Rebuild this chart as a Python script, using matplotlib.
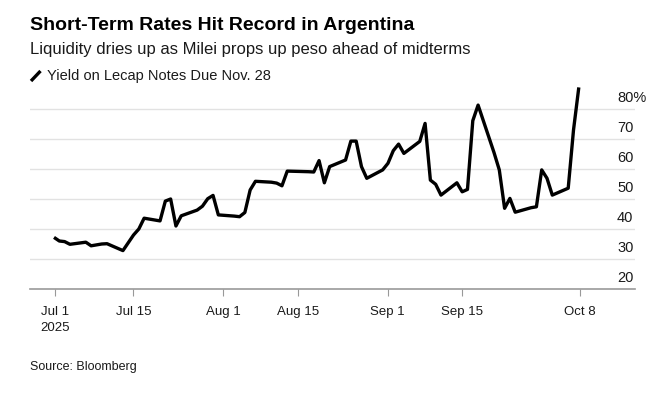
import pandas as pd
import numpy as np
import matplotlib
matplotlib.use('Agg')
from matplotlib import pyplot as plt
import matplotlib.transforms as mtransforms
from matplotlib.lines import Line2D

plt.rcParams['font.family'] = ['Liberation Sans', 'DejaVu Sans']

# yield on Lecap notes due Nov. 28 (%)
dates = ['2025-07-01', '2025-07-02', '2025-07-03', '2025-07-04', '2025-07-07',
         '2025-07-08', '2025-07-10', '2025-07-11', '2025-07-14', '2025-07-15',
         '2025-07-16', '2025-07-17', '2025-07-18', '2025-07-21', '2025-07-22',
         '2025-07-23', '2025-07-24', '2025-07-25', '2025-07-28', '2025-07-29',
         '2025-07-30', '2025-07-31', '2025-08-01', '2025-08-04', '2025-08-05',
         '2025-08-06', '2025-08-07', '2025-08-08', '2025-08-11', '2025-08-12',
         '2025-08-13', '2025-08-14', '2025-08-18', '2025-08-19', '2025-08-20',
         '2025-08-21', '2025-08-22', '2025-08-25', '2025-08-26', '2025-08-27',
         '2025-08-28', '2025-08-29', '2025-09-01', '2025-09-02', '2025-09-03',
         '2025-09-04', '2025-09-05', '2025-09-08', '2025-09-09', '2025-09-10',
         '2025-09-11', '2025-09-12', '2025-09-15', '2025-09-16', '2025-09-17',
         '2025-09-18', '2025-09-19', '2025-09-22', '2025-09-23', '2025-09-24',
         '2025-09-25', '2025-09-26', '2025-09-29', '2025-09-30', '2025-10-01',
         '2025-10-02', '2025-10-03', '2025-10-06', '2025-10-07', '2025-10-08']
yields = [37.3, 36.1, 35.9, 35.0, 35.7,
          34.5, 35.1, 35.2, 32.9, 35.5,
          38.1, 40.1, 43.7, 42.8, 49.4,
          50.1, 41.1, 44.5, 46.4, 47.7,
          50.2, 51.3, 44.8, 44.4, 44.2,
          45.6, 53.1, 56.0, 55.7, 55.4,
          54.5, 59.4, 59.2, 59.1, 62.9,
          55.5, 60.9, 63.1, 69.4, 69.4,
          60.9, 57.0, 59.8, 62.0, 66.2,
          68.4, 65.3, 69.3, 75.3, 56.4,
          55.0, 51.4, 55.5, 52.5, 53.3,
          76.2, 81.4, 65.6, 59.8, 47.0,
          50.3, 45.7, 47.2, 47.5, 59.8,
          57.0, 51.4, 53.7, 73.1, 87.3]

tick_dates = ['2025-07-01', '2025-07-15', '2025-08-01', '2025-08-15',
              '2025-09-01', '2025-09-15', '2025-10-08']
tick_labels = ['Jul 1\n2025', 'Jul 15', 'Aug 1', 'Aug 15', 'Sep 1', 'Sep 15', 'Oct 8']
y_ticks = [20, 30, 40, 50, 60, 70, 80]
y_labels = ['20', '30', '40', '50', '60', '70', '80%']

title = 'Short-Term Rates Hit Record in Argentina'
subtitle = 'Liquidity dries up as Milei props up peso ahead of midterms'
series_name = 'Yield on Lecap Notes Due Nov. 28'
source = 'Source: Bloomberg'

df = pd.DataFrame({'date': pd.to_datetime(dates), 'yield': yields})

W, H = 659, 396
fig = plt.figure(figsize=(W / 100, H / 100), dpi=100)
fig.patch.set_facecolor('white')

ax_left, ax_right, ax_bottom, ax_top = 30, 635, 289.3, 85.3
ax = fig.add_axes([ax_left / W, 1 - ax_bottom / H,
                   (ax_right - ax_left) / W, (ax_bottom - ax_top) / H])

ax.plot(df['date'], df['yield'], color='black', lw=2.4,
        solid_joinstyle='round', solid_capstyle='butt', clip_on=False, zorder=3)

start = pd.Timestamp('2025-07-01')
ax.set_xlim(start - pd.Timedelta(days=4.53), start + pd.Timedelta(days=109.6))
ax.set_ylim(20, 88)

for v in y_ticks[1:]:
    ax.axhline(v, color='#e2e2e2', lw=1.0, zorder=1)

for s in ['top', 'right', 'left']:
    ax.spines[s].set_visible(False)
ax.spines['bottom'].set_color('#999999')
ax.spines['bottom'].set_linewidth(1.2)

# the source chart draws its inner ticks about a day to the right of midnight
tick_shift = [0.2, 0.96, 0.96, 0.96, 0.96, 0.96, 0.2]
tick_pos = [pd.Timestamp(d) + pd.Timedelta(days=s) for d, s in zip(tick_dates, tick_shift)]

ax.set_yticks([])
ax.set_xticks(tick_pos)
ax.set_xticklabels(tick_labels, fontsize=9.5, color='#1a1a1a', linespacing=1.4)
ax.tick_params(axis='x', direction='out', length=5, width=0.8, color='#999999', pad=7.2)

trans = mtransforms.blended_transform_factory(ax.transAxes, ax.transData)
for v, lab in zip(y_ticks, y_labels):
    ax.text((617 - ax_left) / (ax_right - ax_left), v + 2.45, lab, transform=trans,
            ha='left', va='baseline', fontsize=10.5, color='#1a1a1a')

fig.text(30 / W, 1 - 30 / H, title, fontsize=14, fontweight='bold', color='black',
         va='baseline', ha='left')
fig.text(30 / W, 1 - 54 / H, subtitle, fontsize=12, color='#1a1a1a',
         va='baseline', ha='left')
fig.add_artist(Line2D([31 / W, 40.5 / W], [1 - 81 / H, 1 - 71 / H], color='black',
                      lw=2.4, solid_capstyle='butt', transform=fig.transFigure))
fig.text(47 / W, 1 - 80 / H, series_name, fontsize=10.5, color='#1a1a1a',
         va='baseline', ha='left')
fig.text(30 / W, 1 - 370 / H, source, fontsize=9, color='#1a1a1a',
         va='baseline', ha='left')

fig.savefig('out.png', dpi=100, facecolor='white')
